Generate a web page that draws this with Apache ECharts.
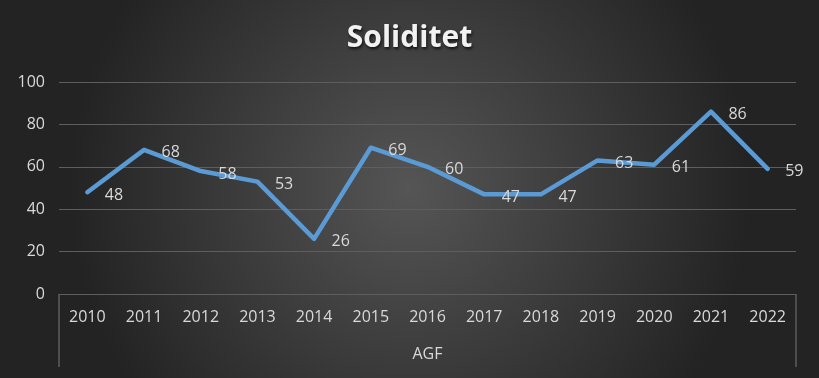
<!DOCTYPE html>
<html>
<head>
<meta charset="utf-8">
<script src="https://cdn.jsdelivr.net/npm/echarts@6/dist/echarts.min.js"></script>
<style>
  html, body { margin: 0; padding: 0; }
  #main { width: 819px; height: 378px; }
</style>
</head>
<body>
<div id="main"></div>
<script>
var years = ['2010', '2011', '2012', '2013', '2014', '2015', '2016', '2017', '2018', '2019', '2020', '2021', '2022'];
var groups = ['AGF'];
var soliditet = [48, 68, 58, 53, 26, 69, 60, 47, 47, 63, 61, 86, 59];
var yTicks = [0, 20, 40, 60, 80, 100];

var textColor = '#d9d9d9';
var lineGrey = '#5e5e5e';
var font = '"Open Sans", "Noto Sans", sans-serif';

var chart = echarts.init(document.getElementById('main'));

var option = {
    backgroundColor: {
        type: 'radial',
        x: 0.5, y: 0.5, r: 0.9,
        colorStops: [
            { offset: 0, color: '#555555' },
            { offset: 1, color: '#232323' }
        ]
    },
    textStyle: { fontFamily: font },
    title: {
        text: 'Soliditet',
        left: 'center',
        top: 18,
        textStyle: {
            color: '#f2f2f2',
            fontSize: 30,
            fontWeight: 'bold',
            fontFamily: font,
            textShadowColor: 'rgba(0,0,0,0.7)',
            textShadowBlur: 3,
            textShadowOffsetX: 1,
            textShadowOffsetY: 2
        }
    },
    grid: { left: 59, right: 23, top: 82, bottom: 84 },
    xAxis: [
        {
            type: 'category',
            data: years,
            boundaryGap: true,
            axisLine: { show: true, lineStyle: { color: lineGrey, width: 1 } },
            axisTick: { show: false },
            axisLabel: { color: textColor, fontSize: 16, margin: 15, fontFamily: font }
        },
        {
            type: 'category',
            data: groups,
            position: 'bottom',
            boundaryGap: true,
            axisLine: { show: false },
            axisTick: { show: true, length: 73, interval: 0, lineStyle: { color: lineGrey, width: 1.5 } },
            axisLabel: { color: textColor, fontSize: 16, margin: 52, fontFamily: font }
        }
    ],
    yAxis: {
        type: 'value',
        min: yTicks[0],
        max: yTicks[yTicks.length - 1],
        interval: 20,
        axisLine: { show: false },
        axisTick: { show: false },
        axisLabel: { color: textColor, fontSize: 16, margin: 14, fontFamily: font },
        splitLine: { lineStyle: { color: lineGrey, width: 1 } }
    },
    series: [{
        type: 'line',
        name: 'Soliditet',
        xAxisIndex: 0,
        data: soliditet,
        symbol: 'circle',
        symbolSize: 1,
        showSymbol: true,
        itemStyle: { color: '#5b9bd5' },
        lineStyle: { color: '#5b9bd5', width: 4.5, cap: 'round', join: 'round' },
        label: {
            show: true,
            position: 'right',
            distance: 17,
            offset: [0, 3],
            color: textColor,
            fontSize: 16,
            fontFamily: font
        },
        animation: false
    }],
    animation: false
};

chart.setOption(option);
</script>
</body>
</html>
